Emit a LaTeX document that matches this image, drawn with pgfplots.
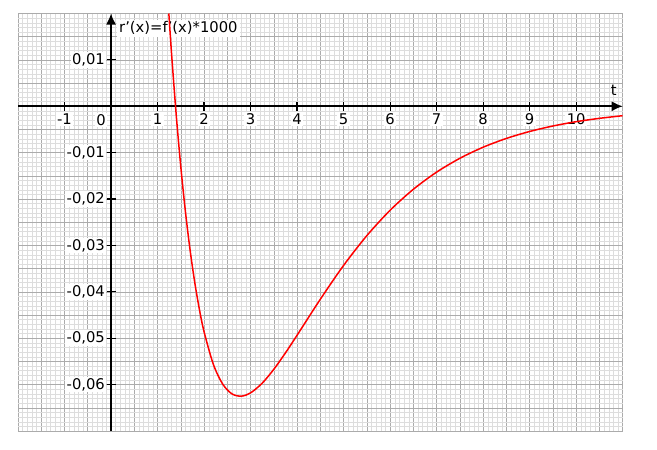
\documentclass[border=0pt]{standalone}
\usepackage{fontspec}
\setmainfont{DejaVu Sans}
\usepackage{pgfplots}
\pgfplotsset{compat=1.18}
\usetikzlibrary{arrows.meta}

\definecolor{gridminor}{HTML}{DDDDDD}
\definecolor{gridmajor}{HTML}{ABABAB}

\newcommand{\lblfont}{\fontsize{14.8}{17}\selectfont}

\pgfplotsset{
  paper/.style={
    at={(18bp,19bp)}, anchor=south west,
    scale only axis, width=604.7bp, height=417.5bp,
    xmin=-2, xmax=11, ymin=-0.07, ymax=0.02,
    scaled ticks=false,
  },
}

\begin{document}
\begin{tikzpicture}
\path[use as bounding box] (0,0) rectangle (657bp,450bp);

% graph paper
\begin{axis}[
  paper,
  axis line style={draw=none},
  xtick distance=0.5, ytick distance=0.005,
  minor x tick num=4, minor y tick num=4,
  xticklabels={}, yticklabels={},
  major tick length=0pt, minor tick length=0pt,
  grid=both,
  major grid style={gridmajor, line width=0.6bp},
  minor grid style={gridminor, line width=0.4bp},
]
\node[anchor=north west, fill=white, inner sep=2bp, font=\lblfont]
  at (axis cs:0,0.02) [xshift=6bp, yshift=-6bp] {r'(x)=f'(x)*1000};
\end{axis}

% axes and curve
\begin{axis}[
  paper,
  axis lines=middle,
  axis line style={black, line width=1.6bp},
  x axis line style={-{Latex[length=11bp,width=10bp]}},
  y axis line style={-{Latex[length=11bp,width=10bp]}},
  xtick={-1,1,2,3,4,5,6,7,8,9,10},
  xticklabels={-1,1,2,3,4,5,6,7,8,9,10},
  ytick={-0.06,-0.05,-0.04,-0.03,-0.02,-0.01,0.01},
  yticklabels={{-0,06},{-0,05},{-0,04},{-0,03},{-0,02},{-0,01},{0,01}},
  tick align=center,
  major tick length=9bp,
  tick style={black, line width=1.2bp},
  tick label style={font=\lblfont, fill=white, inner sep=1.5bp},
  xticklabel style={yshift=-1bp},
  yticklabel style={xshift=0bp},
  xlabel={t},
  every axis x label/.style={at={(axis cs:11,0)}, anchor=center,
    xshift=-9bp, yshift=16bp, font=\lblfont},
]
\addplot[red, line width=1.5bp, smooth] coordinates {
  (1.243, 0.02000)
  (1.30,  0.01151)
  (1.40, -0.00169)
  (1.50, -0.01305)
  (1.60, -0.02276)
  (1.70, -0.03103)
  (1.80, -0.03798)
  (1.90, -0.04380)
  (2.00, -0.04860)
  (2.20, -0.05564)
  (2.40, -0.05988)
  (2.60, -0.06200)
  (2.80, -0.06249)
  (3.00, -0.06178)
  (3.25, -0.05969)
  (3.50, -0.05669)
  (3.75, -0.05316)
  (4.00, -0.04935)
  (4.50, -0.04159)
  (5.00, -0.03430)
  (5.50, -0.02788)
  (6.00, -0.02241)
  (6.50, -0.01789)
  (7.00, -0.01419)
  (7.50, -0.01121)
  (8.00, -0.00882)
  (8.50, -0.00693)
  (9.00, -0.00543)
  (9.50, -0.00425)
  (10.0, -0.00332)
  (10.5, -0.00260)
  (11.0, -0.00203)
};
\node[font=\lblfont, fill=white, inner sep=1.5bp]
  at (axis cs:0,0) [xshift=-10bp, yshift=-14bp] {0};
\end{axis}
\end{tikzpicture}
\end{document}
